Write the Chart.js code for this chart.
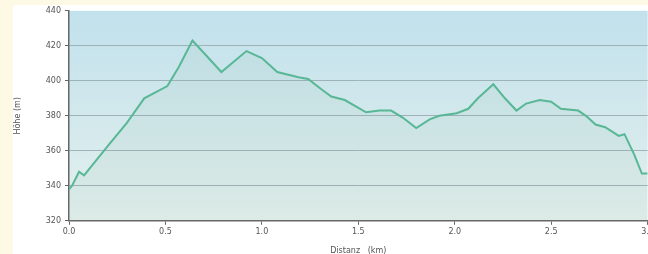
<!DOCTYPE html>
<html lang="de">
<head>
  <meta charset="UTF-8">
  <title>Höhenprofil</title>
  <script src="https://cdn.jsdelivr.net/npm/chart.js"></script>
  <style>
    body {
      margin: 0;
      background: #fdf9e4;
      overflow: hidden;
      width: 648px;
      height: 254px;
    }
    #panel {
      position: absolute;
      left: 13px;
      top: 5px;
      width: 700px;
      height: 300px;
      background: #fff;
    }
    #wrap {
      position: absolute;
      left: 0;
      top: -3px;
      width: 643px;
      height: 254px;
    }
  </style>
</head>
<body>
  <div id="panel">
    <div id="wrap"><canvas id="profil"></canvas></div>
  </div>

  <script>
    // Distanz in km und Höhe in m
    const distanz = [0.0, 0.016, 0.052, 0.078, 0.21, 0.30, 0.39, 0.51, 0.57, 0.64, 0.79, 0.92,
      1.00, 1.08, 1.19, 1.24, 1.31, 1.36, 1.43, 1.54, 1.61, 1.67, 1.73, 1.80, 1.87, 1.92,
      2.01, 2.07, 2.12, 2.20, 2.26, 2.32, 2.37, 2.44, 2.50, 2.55, 2.64, 2.68, 2.73, 2.78,
      2.85, 2.88, 2.93, 2.97, 3.0];
    const hoehe = [338, 340, 348, 346, 364, 376, 390, 397, 408, 423, 405, 417,
      413, 405, 402, 401, 395, 391, 389, 382, 383, 383, 379, 373, 378, 380,
      381.5, 384, 390, 398, 390, 383, 387, 389, 388, 384, 383, 380, 375, 373.5,
      368.5, 369.5, 358, 347, 347];
    const yTicks = [320, 340, 360, 380, 400, 420, 440];
    const xTicks = [0, 0.5, 1.0, 1.5, 2.0, 2.5, 3.0];

    const punkte = distanz.map((d, i) => ({ x: d, y: hoehe[i] }));

    // Hintergrund der Zeichenfläche (blau nach hellgrün)
    const hintergrund = {
      id: 'hintergrund',
      beforeDraw(chart) {
        const { ctx, chartArea: a } = chart;
        const g = ctx.createLinearGradient(0, a.top, 0, a.bottom);
        g.addColorStop(0, '#c1e1ec');
        g.addColorStop(0.5, '#d2e8ec');
        g.addColorStop(1, '#e5f1ee');
        ctx.save();
        ctx.fillStyle = g;
        ctx.fillRect(a.left, a.top, a.right - a.left, a.bottom - a.top);
        ctx.restore();
      }
    };

    const font = { family: 'DejaVu Sans', size: 8 };

    new Chart(document.getElementById('profil'), {
      type: 'line',
      data: {
        datasets: [{
          data: punkte,
          borderColor: '#58b795',
          borderWidth: 2,
          backgroundColor: 'rgba(130, 180, 150, 0.09)',
          fill: 'start',
          pointRadius: 0,
          tension: 0
        }]
      },
      options: {
        responsive: true,
        maintainAspectRatio: false,
        animation: false,
        layout: { padding: { top: 0, right: 0, bottom: 0, left: 0 } },
        plugins: {
          legend: { display: false },
          tooltip: { enabled: false }
        },
        scales: {
          x: {
            type: 'linear',
            min: 0,
            max: 3.0,
            afterBuildTicks: s => { s.ticks = xTicks.map(v => ({ value: v })); },
            ticks: {
              font: font,
              color: '#555',
              padding: 2,
              maxRotation: 0,
              callback: v => v.toFixed(1)
            },
            grid: { drawOnChartArea: false, drawTicks: true, tickLength: 4, tickColor: '#666' },
            border: { color: '#666', width: 1.5 },
            title: {
              display: true,
              text: 'Distanz   (km)',
              font: font,
              color: '#555',
              padding: { top: 8, bottom: 0 }
            }
          },
          y: {
            min: 320,
            max: 440,
            afterBuildTicks: s => { s.ticks = yTicks.map(v => ({ value: v })); },
            afterFit: s => { s.width = 56; },
            ticks: { font: font, color: '#555', padding: 4 },
            grid: {
              color: ctx => (ctx.tick && (ctx.tick.value === 440 || ctx.tick.value === 320)) ? 'rgba(0,0,0,0)' : '#9db3b8',
              tickColor: '#666',
              tickLength: 4,
              lineWidth: 1
            },
            border: { color: '#666', width: 1.5 },
            title: {
              display: true,
              text: 'Höhe (m)',
              font: font,
              color: '#555',
              padding: 0
            }
          }
        }
      },
      plugins: [hintergrund]
    });
  </script>
</body>
</html>
